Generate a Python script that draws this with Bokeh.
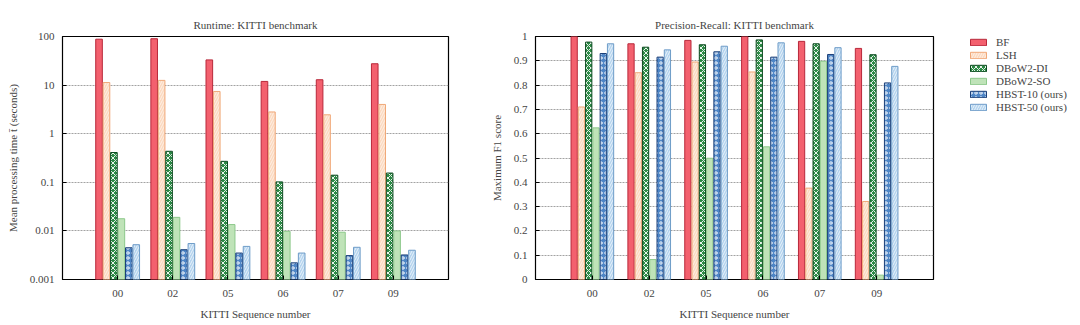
from bokeh.plotting import figure
from bokeh.layouts import row
from bokeh.models import (ColumnDataSource, FixedTicker, CustomJSTickFormatter, Legend,
                          LegendItem, Range1d)
from bokeh.embed import file_html
from bokeh.resources import INLINE

sequences = ["00", "02", "05", "06", "07", "09"]
methods = ["BF", "LSH", "DBoW2-DI", "DBoW2-SO", "HBST-10 (ours)", "HBST-50 (ours)"]

runtime_bf = [88, 90, 33, 11.9, 12.9, 27.5]
runtime_lsh = [11.3, 12.5, 7.4, 2.8, 2.45, 4.0]
runtime_di = [0.41, 0.435, 0.27, 0.102, 0.14, 0.155]
runtime_so = [0.0178, 0.019, 0.0135, 0.0098, 0.0094, 0.0100]
runtime_h10 = [0.0045, 0.0041, 0.0035, 0.0022, 0.0031, 0.0032]
runtime_h50 = [0.0052, 0.0055, 0.0048, 0.0035, 0.0046, 0.0040]

f1_bf = [1.0, 0.97, 0.984, 1.0, 0.98, 0.951]
f1_lsh = [0.71, 0.851, 0.895, 0.854, 0.376, 0.321]
f1_di = [0.977, 0.956, 0.966, 0.986, 0.97, 0.925]
f1_so = [0.624, 0.082, 0.499, 0.546, 0.898, 0.018]
f1_h10 = [0.93, 0.915, 0.937, 0.915, 0.926, 0.809]
f1_h50 = [0.97, 0.945, 0.96, 0.974, 0.954, 0.877]

runtime_ticks = [0.001, 0.01, 0.1, 1, 10, 100]
f1_ticks = [0, 0.1, 0.2, 0.3, 0.4, 0.5, 0.6, 0.7, 0.8, 0.9, 1]

fills = ["#f3606e", "#fcd9bf", "#2c8a45", "#bfe3b8", "#4f86c6", "#b3d3ee"]
lines = ["#b8283a", "#f0a878", "#0d4a20", "#8cc88a", "#1b3f78", "#6e9cc8"]
hatches = [" ", "/", "x", " ", "o", "/"]
hatch_alpha = [0.0, 0.6, 0.9, 0.0, 0.9, 0.7]

runtime_series = [runtime_bf, runtime_lsh, runtime_di, runtime_so, runtime_h10, runtime_h50]
f1_series = [f1_bf, f1_lsh, f1_di, f1_so, f1_h10, f1_h50]

FONT = "Liberation Serif"
positions = list(range(1, len(sequences) + 1))


def style(p, ticks, ylabel):
    p.title.text_font = FONT
    p.title.text_font_style = "normal"
    p.title.text_font_size = "11px"
    p.title.align = "center"
    p.title.vertical_align = "middle"
    p.title.offset = 0
    p.title.standoff = 10
    p.outline_line_color = "black"
    p.outline_line_width = 1.2
    p.xgrid.visible = False
    p.ygrid.grid_line_color = "#8a8a8a"
    p.ygrid.grid_line_dash = "2 1"
    p.ygrid.grid_line_width = 0.8
    p.xaxis.ticker = FixedTicker(ticks=positions)
    p.xaxis.major_label_overrides = {i: s for i, s in zip(positions, sequences)}
    p.yaxis.ticker = FixedTicker(ticks=ticks)
    p.yaxis.formatter = CustomJSTickFormatter(code="return String(tick);")
    for ax in (p.xaxis[0], p.yaxis[0]):
        ax.axis_line_color = None
        ax.major_tick_in = 4
        ax.major_tick_out = 0
        ax.minor_tick_in = 2
        ax.minor_tick_out = 0
        ax.major_label_text_font = FONT
        ax.major_label_text_font_size = "11px"
        ax.axis_label_text_font = FONT
        ax.axis_label_text_font_size = "11px"
        ax.axis_label_text_font_style = "normal"
    p.xaxis.minor_tick_line_color = None
    p.xaxis.major_label_standoff = 10
    p.xaxis.axis_label = "KITTI Sequence number"
    p.xaxis.axis_label_standoff = 8
    p.yaxis.axis_label = ylabel
    p.yaxis.major_label_standoff = 8
    p.yaxis.axis_label_standoff = 8


def add_bars(p, series, base, pitch, width):
    renderers = []
    for k, vals in enumerate(series):
        xs = [pos + (k - 2.5) * pitch for pos in positions]
        src = ColumnDataSource(dict(x=xs, top=vals, bottom=[base] * len(vals)))
        r = p.vbar(x="x", top="top", bottom="bottom", width=width, source=src,
                   fill_color=fills[k], line_color=lines[k], line_width=1,
                   hatch_pattern=hatches[k], hatch_color="white",
                   hatch_alpha=hatch_alpha[k], hatch_scale=5, hatch_weight=1)
        renderers.append(r)
    return renderers


H = 324
# Left: runtime
p1 = figure(width=468, height=H, output_backend="svg", toolbar_location=None,
            y_axis_type="log", x_range=Range1d(0, 7), y_range=Range1d(0.001, 100),
            min_border_left=62, min_border_right=20, min_border_top=34, min_border_bottom=45,
            title="Runtime: KITTI benchmark")
style(p1, runtime_ticks, "Mean processing time t\u0304 (seconds)")
add_bars(p1, runtime_series, 0.001, 0.135, 0.12)

# Right: F1
p2 = figure(width=480, height=H, output_backend="svg", toolbar_location=None,
            x_range=Range1d(0, 7), y_range=Range1d(0, 1),
            min_border_left=67, min_border_right=15, min_border_top=34, min_border_bottom=45,
            title="Precision-Recall: KITTI benchmark")
style(p2, f1_ticks, "Maximum F1 score")
p2.yaxis.minor_tick_line_color = None
add_bars(p2, f1_series, 0, 0.128, 0.11)

# Legend panel (proxy glyphs without visible data)
nan = float("nan")
p3 = figure(width=130, height=H, output_backend="svg", toolbar_location=None,
            x_range=Range1d(0, 1), y_range=Range1d(0, 1),
            min_border_left=20, min_border_right=0, min_border_top=36, min_border_bottom=0)
p3.axis.visible = False
p3.grid.visible = False
p3.outline_line_color = None
legend_renderers = []
for k in range(len(methods)):
    src = ColumnDataSource(dict(x=[nan], top=[nan], bottom=[nan]))
    r = p3.vbar(x="x", top="top", bottom="bottom", width=0.1, source=src,
                fill_color=fills[k], line_color=lines[k], line_width=1,
                hatch_pattern=hatches[k], hatch_color="white",
                hatch_alpha=hatch_alpha[k], hatch_scale=5, hatch_weight=1)
    legend_renderers.append(r)

legend = Legend(items=[LegendItem(label=m, renderers=[r]) for m, r in zip(methods, legend_renderers)],
                location="top_left", orientation="vertical")
legend.label_text_font = FONT
legend.label_text_font_size = "11px"
legend.glyph_width = 20
legend.glyph_height = 8
legend.label_height = 11
legend.label_standoff = 8
legend.spacing = 1
legend.padding = 2
legend.margin = 0
legend.border_line_color = None
legend.background_fill_alpha = 0
p3.add_layout(legend, "center")

layout = row(p1, p2, p3)
open("out.html", "w").write(file_html(layout, INLINE))
